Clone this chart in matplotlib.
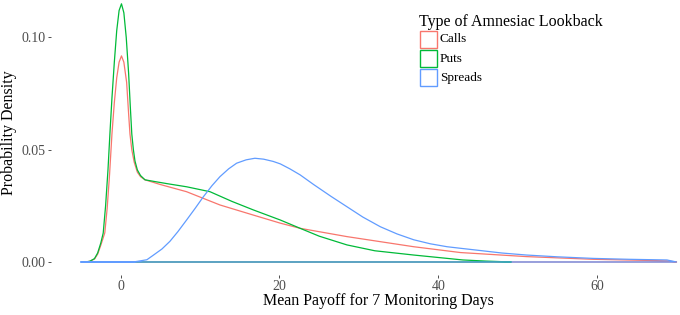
import numpy as np
import matplotlib
matplotlib.use("Agg")
import matplotlib.pyplot as plt
from matplotlib.patches import Rectangle

# density curves
calls_x = [-4.5, -3.9, -3.3, -2.9, -2.5, -2.0, -1.7, -1.4, -1.1, -0.8, -0.5, -0.2, 0.1, 0.4, 0.75,
           1.0, 1.17, 1.4, 1.7, 2.1, 2.5, 3.06, 5, 8.3, 12.5, 16.7, 20.1, 22.6, 28.5, 36.9, 42.8,
           51.1, 59.5, 65, 68.8, 70]
calls_y = [0, 0.0003, 0.0013, 0.0035, 0.0075, 0.013, 0.024, 0.039, 0.057, 0.071, 0.082, 0.089,
           0.0918, 0.089, 0.080, 0.066, 0.057, 0.050, 0.0445, 0.040, 0.038, 0.0366, 0.0345,
           0.0313, 0.0254, 0.0209, 0.0173, 0.015, 0.0113, 0.0068, 0.0042, 0.0024, 0.0012,
           0.0008, 0.0005, 0]

puts_x = [-4.5, -3.9, -3.3, -2.9, -2.5, -2.2, -1.9, -1.6, -1.35, -1.1, -0.8, -0.5, -0.2, 0.1,
          0.4, 0.7, 1.0, 1.2, 1.4, 1.6, 1.8, 2.1, 2.5, 3.06, 4.5, 6, 8.3, 11.25, 14, 16.7, 20.1,
          22.6, 25, 28.5, 32, 36.9, 40, 43.1, 46, 49.2]
puts_y = [0, 0.0003, 0.0015, 0.004, 0.0085, 0.0129, 0.025, 0.041, 0.0575, 0.073, 0.089, 0.103,
          0.112, 0.115, 0.111, 0.100, 0.084, 0.070, 0.057, 0.050, 0.045, 0.041, 0.0385, 0.0366,
          0.0357, 0.0348, 0.0335, 0.0313, 0.027, 0.0232, 0.0187, 0.015, 0.0115, 0.0076, 0.005,
          0.0031, 0.002, 0.0009, 0.0004, 0]

spreads_x = [-5, 1.6, 3.3, 4.1, 5.2, 6.2, 7.2, 8.3, 9.4, 10.4, 11.5, 12.5, 13.6, 14.6, 15.8, 16.9,
             18, 19.2, 20.1, 21.3, 22.6, 24.3, 26.5, 28.5, 30.5, 32.7, 34.8, 36.9, 39, 41.1, 42.8,
             44.8, 48, 51.1, 55, 59.5, 64, 68.8, 70]
spreads_y = [0, 0, 0.001, 0.003, 0.0058, 0.0092, 0.0135, 0.0187, 0.024, 0.029, 0.034, 0.038,
             0.0415, 0.044, 0.0455, 0.0462, 0.0458, 0.0448, 0.0437, 0.0415, 0.0388, 0.0345,
             0.0292, 0.0246, 0.0200, 0.0157, 0.0125, 0.0099, 0.0081, 0.0068, 0.0061, 0.0053,
             0.0040, 0.0031, 0.0023, 0.0016, 0.0012, 0.0009, 0]

series_names = ["Calls", "Puts", "Spreads"]
series_colors = ["#F8766D", "#00BA38", "#619CFF"]
x_ticks = [0, 20, 40, 60]
y_ticks = [0.00, 0.05, 0.10]

plt.rcParams['font.family'] = ['Liberation Serif', 'DejaVu Serif']

W, H = 680, 315
fig = plt.figure(figsize=(W / 100, H / 100), dpi=100)
fig.patch.set_facecolor("white")

# panel runs past the right/top edge like the cropped original
ax = fig.add_axes([51.2 / W, (H - 274.9) / H, 655.1 / W, 283.9 / H])
ax.set_xlim(-8.75, 73.75)
ax.set_ylim(-0.00575, 0.1207)
for s in ax.spines.values():
    s.set_visible(False)

data = [(calls_x, calls_y), (puts_x, puts_y), (spreads_x, spreads_y)]
for (xs, ys), c in zip(data, series_colors):
    xs = np.r_[xs, xs[0]]
    ys = np.r_[ys, 0]
    ax.plot(xs, ys, color=c, lw=0.9, solid_joinstyle="round")

ax.set_xticks(x_ticks)
ax.set_xticklabels([str(t) for t in x_ticks])
ax.set_yticks(y_ticks)
ax.set_yticklabels(["%.2f" % t for t in y_ticks])
ax.tick_params(axis="both", length=2.5, width=0.6, color="#333333",
               labelcolor="#4D4D4D", labelsize=10, pad=1.5)
ax.set_xlabel("Mean Payoff for 7 Monitoring Days", fontsize=11.5, labelpad=0)
ax.set_ylabel("Probability Density", fontsize=11.5, labelpad=3)

# legend drawn by hand in pixel positions
def fx(px):
    return px / W

def fy(py):
    return 1 - py / H

fig.text(fx(419), fy(26.5), "Type of Amnesiac Lookback", fontsize=11.5, va="baseline", ha="left")
key_tops = [31, 50, 69.3]
for name, c, top in zip(series_names, series_colors, key_tops):
    fig.patches.append(Rectangle((fx(419.5), fy(top + 17)), 17 / W, 17 / H,
                                 transform=fig.transFigure, fill=False, edgecolor=c, lw=1.0))
    fig.text(fx(440), fy(top + 8.5), name, fontsize=9.5, va="center", ha="left")

fig.savefig("out.png", dpi=100)
